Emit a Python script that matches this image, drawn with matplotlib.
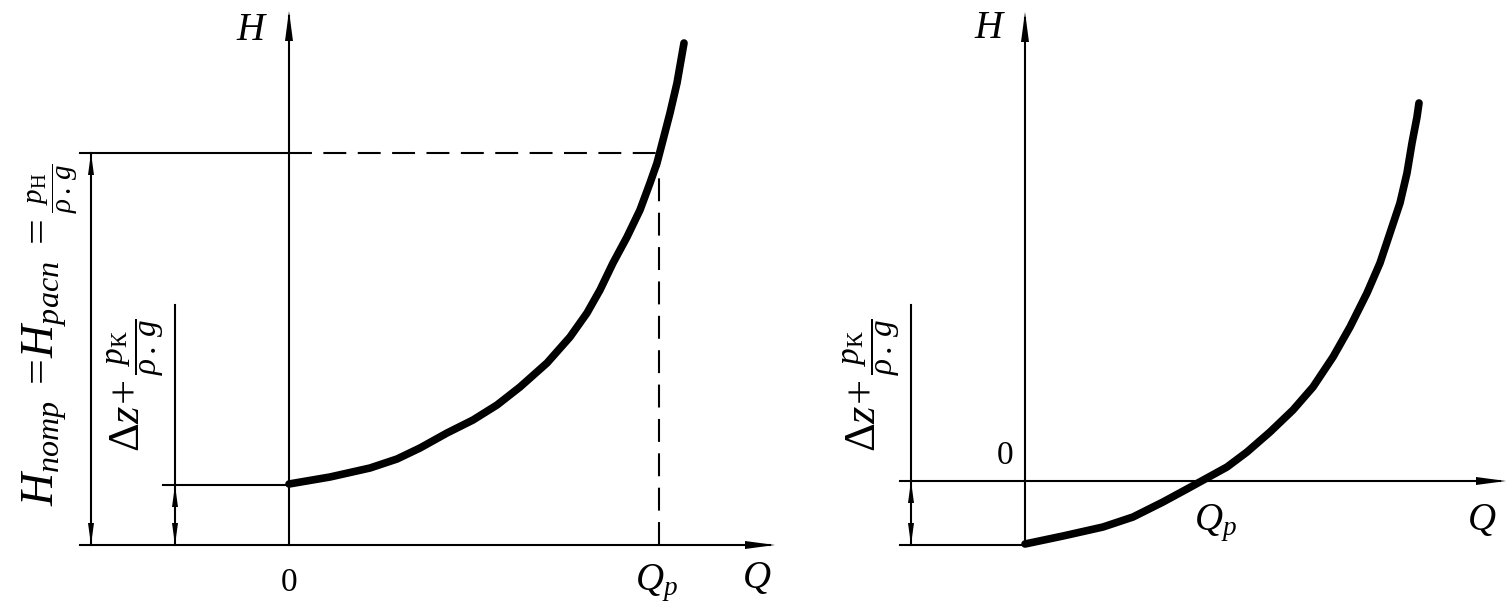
import numpy as np
import matplotlib
matplotlib.use('Agg')
import matplotlib.pyplot as plt

# Times-like fonts for the math labels (Cyrillic subscripts too)
plt.rcParams['mathtext.fontset'] = 'custom'
plt.rcParams['mathtext.rm'] = 'Liberation Serif'
plt.rcParams['mathtext.it'] = 'Liberation Serif:italic'
plt.rcParams['mathtext.bf'] = 'Liberation Serif:bold'
plt.rcParams['font.family'] = ['Liberation Serif', 'DejaVu Serif']

W, H = 1511, 616

# ============================================================
# DATA (pixel units, y measured upward from each panel's Q axis)
# ============================================================
# left panel: pump-network characteristic
left_origin = (289, 71)
left_dq = [0, 41, 81, 108, 131, 158, 184, 208, 231, 258, 281, 298,
           311, 324, 338, 351, 361, 368, 374, 381, 388, 395]
left_dh = [61, 68, 77, 86, 97, 112, 125, 140, 158, 182, 208, 232,
           255, 282, 308, 335, 362, 382, 405, 432, 462, 502]
left_qp = 370          # Q_p position
left_hn = 392          # H_потр level
left_dz = 60           # static head level

# right panel: static head below zero
right_origin = (1025, 135)
right_dq = [0, 38, 78, 108, 138, 162, 182, 202, 222, 245, 268, 288,
            308, 325, 342, 355, 365, 375, 382, 387, 392, 394]
right_dh = [-63, -55, -46, -36, -21, -8, 3, 14, 29, 49, 71, 94,
            124, 154, 188, 218, 248, 278, 308, 338, 364, 378]
right_dz = -64

lw_axis = 1.5
lw_curve = 5.5
dash = (11, 5.5)

fig = plt.figure(figsize=(W / 100, H / 100), dpi=100)
ax = fig.add_axes([0, 0, 1, 1])
ax.set_xlim(0, W)
ax.set_ylim(0, H)
ax.axis('off')
renderer = fig.canvas.get_renderer()


def arrow_head(x, y, direction, length=26, half=4):
    # filled narrow triangle, tip at (x, y)
    if direction == 'up':
        pts = [(x, y), (x - half, y - length), (x + half, y - length)]
    elif direction == 'down':
        pts = [(x, y), (x - half, y + length), (x + half, y + length)]
    else:  # right
        pts = [(x, y), (x - length, y - half), (x - length, y + half)]
    xs, ys = zip(*pts)
    ax.fill(xs, ys, color='black', lw=0)


def stacked_label(x, y_start, head, head_size, frac, frac_size, dx, gap):
    # rotated label reading bottom -> top; fraction placed right after the head
    t = ax.text(x, y_start, head, fontsize=head_size, rotation=90,
                ha='center', va='bottom')
    bb = t.get_window_extent(renderer)
    top = ax.transData.inverted().transform((bb.x1, bb.y1))[1]
    ax.text(x + dx, top + gap, frac, fontsize=frac_size, rotation=90,
            ha='center', va='bottom')


# ============================================================
# LEFT PANEL
# ============================================================
ox, oy = left_origin
# axes
ax.plot([80, 770], [oy, oy], color='black', lw=lw_axis)
arrow_head(775, oy, 'right', length=30, half=4)
ax.plot([ox, ox], [oy, 600], color='black', lw=lw_axis)
arrow_head(ox, 605, 'up', length=30, half=4)

# H_потр level: solid to axis, then dashed to the curve
ax.plot([80, ox], [oy + left_hn, oy + left_hn], color='black', lw=lw_axis)
ax.plot([ox, ox + left_qp], [oy + left_hn, oy + left_hn], color='black',
        lw=lw_axis, dashes=dash)
ax.plot([ox + left_qp, ox + left_qp], [oy, oy + left_hn], color='black',
        lw=lw_axis, dashes=dash)

# static head level
ax.plot([163, ox], [oy + left_dz, oy + left_dz], color='black', lw=lw_axis)

# dimension lines
ax.plot([91, 91], [oy, oy + left_hn], color='black', lw=lw_axis)
arrow_head(91, oy + left_hn, 'up', length=22, half=3)
arrow_head(91, oy, 'down', length=22, half=3)
ax.plot([175, 175], [oy, oy + 240], color='black', lw=lw_axis)
arrow_head(175, oy + left_dz, 'up', length=22, half=3)
arrow_head(175, oy, 'down', length=22, half=3)

# curve
ax.plot(ox + np.array(left_dq), oy + np.array(left_dh), color='black',
        lw=lw_curve, solid_capstyle='round', solid_joinstyle='round')

# labels
ax.text(252, H - 30, r'$H$', fontsize=28, ha='center', va='center')
ax.text(ox, H - 583, '0', fontsize=24, ha='center', va='center')
ax.text(ox + left_qp - 3, H - 583, r'$Q_p$', fontsize=28, ha='center', va='center')
ax.text(757, H - 578, r'$Q$', fontsize=28, ha='center', va='center')
stacked_label(45, H - 506, r'$H_{потр}\;=\!H_{расп}\;=$', 33,
              r'$\dfrac{p_{\mathrm{Н}}}{\rho\,.\,g}$', 21, 8, 6)
stacked_label(128, H - 452, r'$\mathit{Δz}\!+$', 32,
              r'$\dfrac{p_{\mathrm{К}}}{\rho\,.\,g}$', 24, 8, 5)

# ============================================================
# RIGHT PANEL
# ============================================================
ox, oy = right_origin
ax.plot([900, 1500], [oy, oy], color='black', lw=lw_axis)
arrow_head(1506, oy, 'right', length=30, half=4)
ax.plot([ox, ox], [oy + right_dz, 598], color='black', lw=lw_axis)
arrow_head(ox, 604, 'up', length=30, half=4)

ax.plot([900, ox], [oy + right_dz, oy + right_dz], color='black', lw=lw_axis)
ax.plot([911, 911], [oy + right_dz, oy + 176], color='black', lw=lw_axis)
arrow_head(911, oy, 'up', length=22, half=3)
arrow_head(911, oy + right_dz, 'down', length=22, half=3)

ax.plot(ox + np.array(right_dq), oy + np.array(right_dh), color='black',
        lw=lw_curve, solid_capstyle='round', solid_joinstyle='round')

ax.text(990, H - 28, r'$H$', fontsize=28, ha='center', va='center')
ax.text(1005, H - 456, '0', fontsize=24, ha='center', va='center')
ax.text(1215, H - 523, r'$Q_p$', fontsize=28, ha='center', va='center')
ax.text(1482, H - 520, r'$Q$', fontsize=28, ha='center', va='center')
stacked_label(864, H - 452, r'$\mathit{Δz}\!+$', 32,
              r'$\dfrac{p_{\mathrm{К}}}{\rho\,.\,g}$', 24, 8, 5)

fig.savefig('out.png', dpi=100)
